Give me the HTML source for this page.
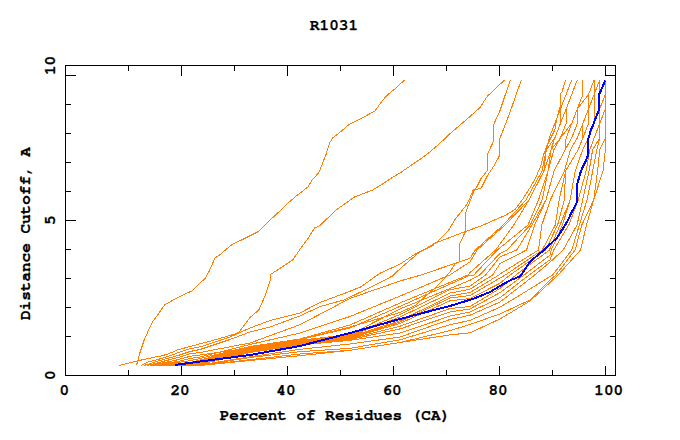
<!DOCTYPE html>
<html><head><meta charset="utf-8"><title>R1031</title>
<style>html,body{margin:0;padding:0;background:#fff;}svg{display:block;}</style></head>
<body><svg width="680" height="440" viewBox="0 0 680 440">
<rect width="680" height="440" fill="#fff"/>
<g fill="none" stroke="#ff8000" stroke-width="1" stroke-linejoin="round" shape-rendering="crispEdges">
<polyline points="136.5,365.5 139.5,354.0 144.0,340.5 148.6,330.0 153.0,321.0 156.6,316.6 164.5,305.0 170.2,301.8 178.0,297.3 185.0,294.0 191.8,291.0 197.5,285.5 205.5,278.0 209.5,270.5 215.0,258.0 219.0,255.5 227.0,248.6 232.7,244.0 243.6,239.0 258.6,231.5 268.0,222.0 279.0,211.8 287.0,204.0 296.8,195.5 304.0,190.0 308.0,187.0 311.8,180.5 319.0,172.3 326.0,154.5 330.0,142.3 332.7,138.0 341.0,131.4 349.0,124.5 362.7,117.7 375.0,111.0 381.8,101.4 387.3,95.0 395.4,88.5 404.5,80.0"/>
<polyline points="119.1,365.5 138.0,360.9 143.9,359.4 149.8,358.2 155.6,356.8 161.5,355.9 167.4,354.1 173.3,351.8 176.8,350.0 190.0,346.6 200.0,343.8 210.0,341.2 236.8,333.5 240.0,331.0 249.5,318.0 258.8,310.0 265.0,296.0 270.4,280.0 270.4,274.5 279.0,269.0 292.7,260.0 299.5,250.0 307.7,239.0 314.5,228.0 320.0,225.5 336.0,210.0 354.5,197.0 372.7,190.0 381.8,184.5 390.0,179.0 401.0,172.3 420.0,159.3 430.0,151.8 438.8,144.3 451.3,132.5 463.8,121.8 472.5,114.3 480.0,107.5 487.5,96.0 493.8,90.5 500.0,84.3 504.5,80.0"/>
<polyline points="141.2,365.5 146.8,362.4 152.7,360.9 157.4,359.7 167.4,356.5 173.3,354.7 178.0,352.6 190.0,348.8 200.0,346.9 230.0,337.0 250.0,328.0 270.0,320.5 300.0,312.9 320.0,302.5 347.3,292.3 361.0,286.8 380.0,273.2 400.0,264.2 414.0,254.8 425.5,249.0 434.5,244.5 448.2,231.0 455.0,219.5 467.5,203.6 473.2,190.0 476.3,188.0 481.3,178.0 487.5,170.5 487.5,154.3 493.8,140.5 493.8,124.3 500.0,110.5 505.0,95.5 510.5,80.0"/>
<polyline points="144.0,365.5 160.0,360.5 178.0,355.5 190.0,351.5 200.0,349.5 230.0,339.5 250.0,332.0 270.0,327.0 300.0,315.9 320.0,306.6 344.5,299.8 380.0,282.7 392.5,276.0 400.0,268.8 418.6,252.8 434.5,243.4 464.0,232.0 480.0,226.4 506.0,215.0 515.0,209.5 522.2,200.0 529.3,188.9 535.7,177.7 540.5,166.6 543.6,154.7 546.8,145.9 551.6,136.4 554.8,130.0 557.6,115.0 560.2,106.0 560.2,94.0 562.0,92.0 565.5,80.0"/>
<polyline points="149.8,365.5 178.0,359.7 190.0,356.3 200.0,355.0 250.0,348.0 300.0,339.5 350.0,327.0 400.0,312.5 416.2,305.0 422.5,298.8 430.0,292.5 436.2,286.9 443.8,279.4 450.0,271.9 455.0,263.8 459.5,261.6 459.5,244.5 465.2,232.0 465.2,214.0 466.4,210.5 470.9,199.0 474.3,190.0 481.3,188.0 487.5,175.5 495.0,164.3 499.5,155.5 499.5,139.3 502.5,131.8 508.8,115.5 515.0,98.0 521.3,80.0"/>
<polyline points="146.8,365.5 178.0,357.6 190.0,353.7 200.0,352.5 250.0,343.0 300.0,324.7 350.0,298.4 400.0,281.0 421.0,275.0 470.0,258.3 475.3,250.0 503.2,225.0 526.0,200.0 542.1,171.0 546.2,150.0 549.2,138.0 554.8,123.5 560.4,109.0 566.1,94.5 571.7,80.0"/>
<polyline points="150.0,365.5 178.0,361.5 190.0,358.5 200.0,357.0 250.0,344.5 300.0,333.0 350.0,316.5 400.0,296.1 449.7,275.0 470.0,261.9 477.0,250.0 505.0,225.0 529.0,200.0 543.9,171.0 546.2,150.0 554.8,138.0 560.4,123.5 560.4,109.0 566.1,94.5 571.7,80.0"/>
<polyline points="151.5,365.5 178.0,362.5 190.0,360.7 200.0,358.5 250.0,346.5 300.0,339.0 350.0,325.0 400.0,303.0 468.0,275.0 470.0,272.6 495.6,250.0 513.8,225.0 529.0,200.0 543.9,171.0 550.9,150.0 554.8,138.0 560.4,123.5 566.1,109.0 571.7,94.5 577.3,80.0"/>
<polyline points="153.0,365.5 178.0,363.5 190.0,362.5 200.0,360.0 250.0,347.0 300.0,339.6 350.0,328.0 400.0,306.4 470.0,275.2 473.8,275.0 497.4,250.0 528.0,225.0 538.5,200.0 548.1,171.0 550.9,150.0 560.4,138.0 566.1,123.5 566.1,109.0 571.7,94.5 577.3,80.0"/>
<polyline points="155.0,365.5 178.0,364.0 190.0,363.0 200.0,360.5 250.0,347.5 300.0,340.2 350.0,334.6 400.0,309.0 470.0,280.3 479.7,275.0 500.0,253.4 507.1,250.0 530.3,225.0 542.2,200.0 548.1,171.0 553.8,150.0 560.4,138.0 571.7,123.5 577.3,109.0 582.9,94.5 582.9,80.0"/>
<polyline points="157.0,365.5 178.0,364.3 190.0,363.4 200.0,361.0 250.0,348.0 300.0,340.8 350.0,335.3 400.0,314.5 450.0,289.7 470.0,286.1 485.6,275.0 500.0,256.8 516.8,250.0 532.0,225.0 545.9,200.0 554.1,171.0 565.0,150.0 566.1,138.0 571.7,123.5 577.3,109.0 582.9,94.5 582.9,80.0"/>
<polyline points="159.0,365.5 178.0,364.6 190.0,363.8 200.0,361.5 250.0,348.5 300.0,341.4 350.0,336.0 400.0,317.0 450.0,293.1 470.0,289.2 492.6,275.0 500.0,263.6 526.5,250.0 534.7,225.0 545.9,200.0 554.1,171.0 565.0,150.0 571.7,138.0 577.3,123.5 577.3,109.0 588.5,94.5 594.1,80.0"/>
<polyline points="161.0,365.5 178.0,365.0 190.0,364.2 200.0,362.0 250.0,349.0 300.0,342.0 350.0,336.7 400.0,320.7 450.0,296.0 470.0,292.5 499.0,275.0 500.0,274.0 538.5,250.0 541.8,225.0 550.3,200.0 564.4,171.0 570.3,150.0 577.3,138.0 582.9,123.5 588.5,109.0 588.5,94.5 594.1,80.0"/>
<polyline points="163.0,365.5 178.0,365.2 190.0,364.6 200.0,362.5 250.0,349.5 300.0,342.6 350.0,337.4 400.0,322.0 450.0,298.0 470.0,295.5 500.0,278.0 505.3,275.0 542.2,250.0 555.3,225.0 559.1,200.0 565.6,171.0 578.0,150.0 582.9,138.0 582.9,123.5 588.5,109.0 594.1,94.5 594.1,80.0"/>
<polyline points="165.0,365.5 178.0,365.4 190.0,365.0 200.0,363.0 250.0,350.0 300.0,343.2 350.0,338.1 400.0,323.4 450.0,300.8 470.0,298.5 500.0,283.2 510.0,275.0 545.6,250.0 557.6,225.0 564.3,200.0 565.6,171.0 578.0,150.0 582.9,138.0 588.5,123.5 588.5,109.0 594.1,94.5 599.7,80.0"/>
<polyline points="167.0,365.5 178.0,365.5 190.0,365.2 200.0,363.5 250.0,351.0 300.0,343.8 350.0,338.8 400.0,326.2 450.0,308.5 470.0,306.5 500.0,288.4 515.9,275.0 549.4,250.0 560.0,225.0 570.1,200.0 575.2,171.0 582.6,150.0 588.5,138.0 594.1,123.5 594.1,109.0 594.1,94.5 599.7,80.0"/>
<polyline points="169.0,365.5 178.0,365.5 190.0,365.4 200.0,364.0 250.0,351.5 300.0,344.4 350.0,339.5 400.0,328.9 450.0,311.9 470.0,309.0 500.0,292.6 524.1,275.0 550.0,255.0 551.3,250.0 562.4,225.0 570.1,200.0 575.2,171.0 582.6,150.0 588.5,138.0 594.1,123.5 599.7,109.0 599.7,94.5 599.7,80.0"/>
<polyline points="171.0,365.5 178.0,365.5 190.0,365.5 200.0,364.5 250.0,352.5 300.0,345.0 350.0,340.3 400.0,333.0 450.0,316.1 470.0,312.0 500.0,297.7 529.0,275.0 550.0,259.8 553.7,250.0 568.8,225.0 578.2,200.0 586.1,171.0 589.7,150.0 594.1,138.0 599.7,123.5 599.7,109.0 599.7,94.5 605.3,80.0"/>
<polyline points="174.0,365.5 178.0,365.5 190.0,365.5 200.0,365.0 250.0,356.8 300.0,349.3 350.0,344.0 400.0,337.0 450.0,319.5 470.0,315.2 500.0,302.0 534.7,275.0 550.0,262.2 563.2,250.0 577.0,225.0 582.6,200.0 589.1,171.0 592.6,150.0 599.7,138.0 599.7,123.5 599.7,109.0 605.3,94.5 605.3,80.0"/>
<polyline points="177.0,365.5 190.0,365.5 200.0,365.5 250.0,357.5 300.0,351.7 350.0,348.3 400.0,339.8 450.0,324.7 470.0,320.4 500.0,307.1 530.0,289.0 550.0,276.5 552.7,275.0 571.8,250.0 579.4,225.0 587.0,200.0 592.7,171.0 596.8,150.0 599.7,138.0 599.7,123.5 605.3,109.0 605.3,94.5 605.3,80.0"/>
<polyline points="180.0,365.5 190.0,365.5 200.0,365.5 250.0,359.7 300.0,354.0 350.0,350.3 400.0,342.5 450.0,330.6 470.0,324.5 500.0,313.9 530.0,300.0 550.0,280.0 555.9,275.0 575.1,250.0 581.8,225.0 593.7,200.0 597.6,171.0 599.7,150.0 605.3,138.0 605.3,123.5 605.3,109.0 605.3,94.5 605.3,80.0"/>
<polyline points="184.0,365.5 200.0,365.5 250.0,360.5 300.0,355.7 350.0,350.3 400.0,342.5 450.0,334.9 470.0,332.8 500.0,319.0 530.0,301.0 550.0,282.5 558.0,275.0 580.6,250.0 586.5,225.0 593.7,200.0 603.0,171.0 605.3,150.0 605.3,138.0 605.3,123.5 605.3,109.0 605.3,94.5 605.3,80.0"/>
</g>
<polyline fill="none" stroke="#0000ff" stroke-width="2" stroke-linejoin="round" shape-rendering="crispEdges" points="174.7,365.0 200.0,361.5 250.0,355.0 300.0,346.0 350.0,333.0 375.0,326.0 400.0,319.0 426.5,312.0 450.0,306.0 474.0,298.5 490.0,292.0 500.0,286.0 511.0,280.0 520.0,276.4 522.7,272.7 530.0,261.8 537.3,255.5 544.0,250.0 556.8,238.0 563.0,228.5 568.2,220.0 570.5,214.5 572.3,210.9 575.0,206.4 577.0,201.8 577.0,184.5 579.0,177.7 580.7,172.0 583.0,166.4 585.8,160.7 587.7,156.1 587.7,140.2 588.6,138.0 590.9,130.0 592.7,126.1 596.0,117.0 598.8,110.5 598.8,95.0 599.9,92.7 605.3,80.5"/>
<g fill="none" stroke="#000" stroke-width="1" shape-rendering="crispEdges"><rect x="65.5" y="65.5" width="550" height="310"/><path d="M65,75.5h11 M615,75.5h-10 M65,104.5h6 M615,104.5h-5 M65,133.5h6 M615,133.5h-5 M65,162.5h6 M615,162.5h-5 M65,191.5h6 M615,191.5h-5 M65,220.5h11 M615,220.5h-10 M65,249.5h6 M615,249.5h-5 M65,278.5h6 M615,278.5h-5 M65,307.5h6 M615,307.5h-5 M65,336.5h6 M615,336.5h-5 M128.5,65v6 M128.5,375v-5 M181.5,65v11 M181.5,375v-9 M234.5,65v6 M234.5,375v-5 M287.5,65v11 M287.5,375v-9 M340.5,65v6 M340.5,375v-5 M393.5,65v11 M393.5,375v-9 M446.5,65v6 M446.5,375v-5 M499.5,65v11 M499.5,375v-9 M552.5,65v6 M552.5,375v-5 M605.5,65v11 M605.5,375v-9"/></g>
<g font-family="FreeMono, 'TeX Gyre Cursor', 'Liberation Mono', monospace" font-weight="bold" font-size="16" stroke="#000" stroke-width="0.25" fill="#000">
<text x="310" y="30">R1031</text>
<text x="219.7" y="420">Percent of Residues (CA)</text>
<text x="59.5" y="395">0</text>
<text x="170.5" y="395">20</text>
<text x="276.3" y="395">40</text>
<text x="382.4" y="395">60</text>
<text x="488.4" y="395">80</text>
<text x="594.3" y="395">100</text>
<text transform="translate(30,320) rotate(-90)" x="0" y="0">Distance Cutoff, A</text>
<text transform="translate(55,75) rotate(-90)">10</text>
<text transform="translate(55,225) rotate(-90)">5</text>
<text transform="translate(55,380) rotate(-90)">0</text>
</g>
</svg></body></html>
